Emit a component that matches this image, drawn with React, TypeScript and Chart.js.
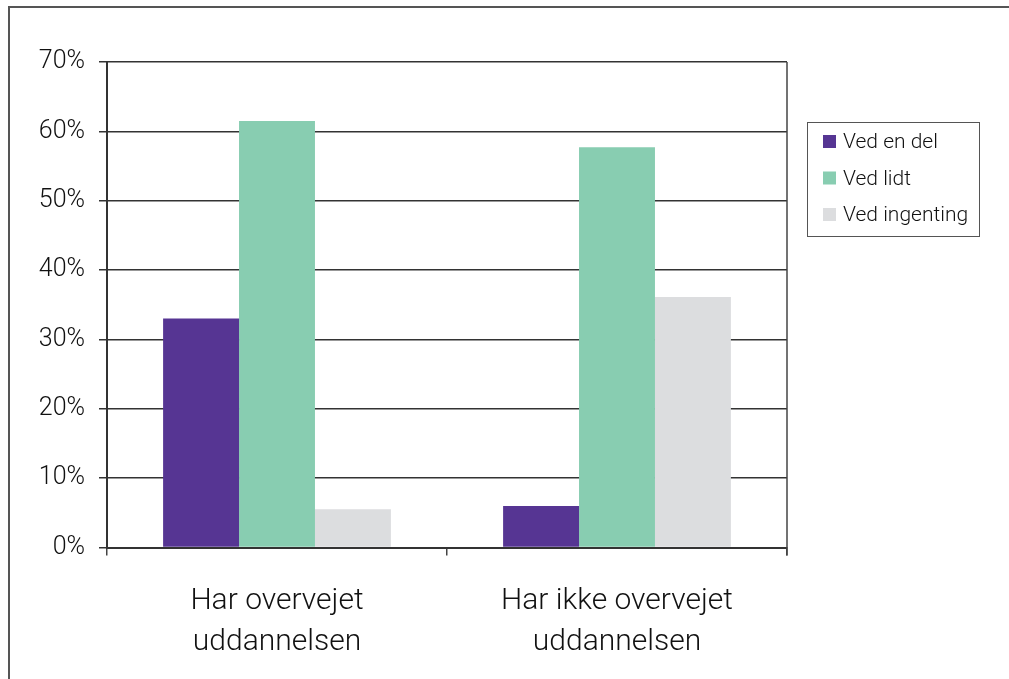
import React, { useEffect, useRef } from "react";
import { Chart, registerables } from "chart.js";

Chart.register(...registerables);

const categories: string[][] = [
  ["Har overvejet", "uddannelsen"],
  ["Har ikke overvejet", "uddannelsen"],
];
const seriesLabels = ["Ved en del", "Ved lidt", "Ved ingenting"];
const vedEnDel = [33.0, 6.0];
const vedLidt = [61.5, 57.7];
const vedIngenting = [5.5, 36.1];
const seriesColors = ["#563593", "#88CDB1", "#DCDDDF"];
const yTicks = [0, 10, 20, 30, 40, 50, 60, 70];

const FONT = "Roboto";

const legendAndFrame = {
  id: "legendAndFrame",
  afterDraw(chart: any) {
    const { ctx, chartArea } = chart;
    ctx.save();
    ctx.strokeStyle = "#444";
    ctx.lineWidth = 1.5;
    ctx.beginPath();
    ctx.moveTo(chartArea.right, chartArea.top);
    ctx.lineTo(chartArea.right, chartArea.bottom + 8);
    ctx.stroke();

    const bx = chartArea.right + 20;
    const by = chartArea.top + 60;
    const bw = 172;
    const bh = 114;
    ctx.strokeStyle = "#555";
    ctx.lineWidth = 1;
    ctx.strokeRect(bx + 0.5, by + 0.5, bw, bh);
    ctx.font = `300 21px ${FONT}`;
    ctx.textBaseline = "middle";
    chart.data.datasets.forEach((ds: any, i: number) => {
      const cy = by + 20 + i * 36.5;
      ctx.fillStyle = ds.backgroundColor;
      ctx.fillRect(bx + 16, cy - 7, 13, 13);
      ctx.fillStyle = "#111";
      ctx.fillText(ds.label, bx + 36, cy + 1);
    });
    ctx.restore();
  },
};

export default function App() {
  const ref = useRef<HTMLCanvasElement>(null);
  useEffect(() => {
    if (!ref.current) return;
    const chart = new Chart(ref.current, {
      type: "bar",
      data: {
        labels: categories,
        datasets: [vedEnDel, vedLidt, vedIngenting].map((d, i) => ({
          label: seriesLabels[i],
          data: d,
          backgroundColor: seriesColors[i],
          borderWidth: 0,
          categoryPercentage: 0.67,
          barPercentage: 1,
        })),
      },
      options: {
        animation: false,
        responsive: false,
        devicePixelRatio: 1,
        layout: { padding: { top: 54, left: 0, right: 222, bottom: 0 } },
        plugins: {
          legend: { display: false },
          tooltip: { enabled: false },
        },
        scales: {
          x: {
            offset: true,
            grid: {
              display: true,
              drawOnChartArea: false,
              drawTicks: true,
              tickLength: 8,
              offset: true,
              color: "#444",
              lineWidth: 1.5,
            },
            border: { color: "#333", width: 2 },
            ticks: {
              color: "#111",
              padding: 26,
              font: { family: FONT, size: 30, weight: 300, lineHeight: 1.35 },
            },
            afterFit: (s: any) => {
              s.height = 131.5;
            },
          },
          y: {
            min: 0,
            max: 70,
            afterBuildTicks: (s: any) => {
              s.ticks = yTicks.map((v) => ({ value: v }));
            },
            grid: {
              color: "#333",
              lineWidth: 1.5,
              drawTicks: true,
              tickLength: 8,
            },
            border: { color: "#333", width: 2 },
            ticks: {
              color: "#111",
              padding: 14,
              font: { family: FONT, size: 25, weight: 300 },
              callback: (v: any) => `${v}%`,
            },
            afterFit: (s: any) => {
              s.width = 97;
            },
          },
        },
      },
      plugins: [legendAndFrame],
    });
    return () => chart.destroy();
  }, []);
  return (
    <div
      style={{
        position: "fixed",
        left: 8,
        top: 6,
        width: 1001,
        height: 673,
        borderTop: "2px solid #555",
        borderLeft: "2px solid #555",
        boxSizing: "border-box",
        overflow: "hidden",
      }}
    >
      <canvas ref={ref} width={999} height={671} style={{ display: "block" }} />
    </div>
  );
}
